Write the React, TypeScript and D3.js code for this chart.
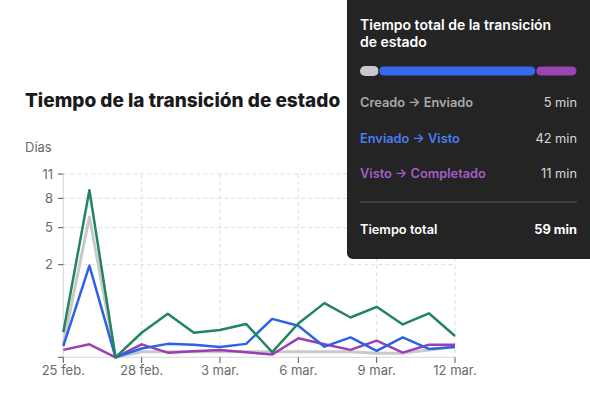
import React from 'react';
import * as d3 from 'd3';

// dias del periodo (uno por punto)
const dates = [
  '2023-02-25', '2023-02-26', '2023-02-27', '2023-02-28', '2023-03-01', '2023-03-02',
  '2023-03-03', '2023-03-04', '2023-03-05', '2023-03-06', '2023-03-07', '2023-03-08',
  '2023-03-09', '2023-03-10', '2023-03-11', '2023-03-12',
];
const creadoEnviado = [0.28, 6.1, 0, 0.12, 0.12, 0.12, 0.12, 0.12, 0.12, 0.12, 0.12, 0.12, 0.09, 0.09, 0.16, 0.23];
const enviadoVisto = [0.24, 1.98, 0, 0.19, 0.29, 0.27, 0.22, 0.29, 0.83, 0.68, 0.23, 0.43, 0.14, 0.43, 0.18, 0.22];
const vistoCompletado = [0.16, 0.28, 0, 0.28, 0.1, 0.13, 0.16, 0.11, 0.06, 0.41, 0.28, 0.16, 0.36, 0.1, 0.27, 0.27];
const total = [0.54, 9.0, 0, 0.53, 0.94, 0.53, 0.59, 0.72, 0.11, 0.73, 1.17, 0.86, 1.09, 0.71, 0.95, 0.46];

const yTicks = [0, 2, 5, 8, 11];
const xTicks = ['2023-02-25', '2023-02-28', '2023-03-03', '2023-03-06', '2023-03-09', '2023-03-12'];
const monthNames = ['ene.', 'feb.', 'mar.', 'abr.'];

const legendLabels = ['Creado → Enviado', 'Enviado → Visto', 'Visto → Completado'];
const legendMinutes = [5, 42, 11];
const totalMinutes = 59;

const W = 590;
const H = 397;
const font = 'Inter, "Noto Sans", sans-serif';

const lineColors = {
  gray: '#c9c9c9',
  blue: '#2c62e6',
  purple: '#9a3fb3',
  green: '#23845e',
};

const App = () => {
  const parse = d3.timeParse('%Y-%m-%d');
  const dd = dates.map((d) => parse(d) as Date);

  const x = d3.scaleTime()
    .domain([parse(xTicks[0]) as Date, parse(xTicks[xTicks.length - 1]) as Date])
    .range([63.3, 455]);
  // escala comprimida arriba (tramos entre las marcas)
  const y = d3.scaleLinear()
    .domain(yTicks)
    .range([357.3, 264.7, 227.7, 198.3, 174]);

  const line = d3.line<number>()
    .x((_, i) => x(dd[i]))
    .y((v) => y(v));

  const series = [
    { vals: creadoEnviado, color: lineColors.gray, w: 3 },
    { vals: vistoCompletado, color: lineColors.purple, w: 2.5 },
    { vals: enviadoVisto, color: lineColors.blue, w: 2.5 },
    { vals: total, color: lineColors.green, w: 2.5 },
  ];

  const fmt = (s: string) => {
    const d = parse(s) as Date;
    return d.getDate() + ' ' + monthNames[d.getMonth()];
  };

  // barra del tooltip
  const barX = d3.scaleLinear()
    .domain([0, d3.sum(legendMinutes)])
    .range([360, 577]);
  const barColors = ['#c8c8c8', '#3469ee', '#9b44b2'];
  const textColors = ['#a9a9a9', '#4a7cf5', '#a85cc6'];
  let acc = 0;
  const segs = legendMinutes.map((m, i) => {
    const s = { x0: barX(acc), x1: barX(acc + m), c: barColors[i] };
    acc += m;
    return s;
  });

  const [x0, x1] = x.range();

  return (
    <svg width={W} height={H} style={{ position: 'absolute', left: 0, top: 0, background: '#fff' }} fontFamily={font}>
      <text x={25} y={107} fontSize={19} fontWeight={800} fill="#1a1a1a">Tiempo de la transición de estado</text>
      <text x={25} y={152} fontSize={13} fill="#6b6b6b">Días</text>

      {/* rejilla */}
      {yTicks.slice(1).map((t) => (
        <line key={'gy' + t} x1={x0} x2={x1} y1={y(t)} y2={y(t)} stroke="#dedede" strokeDasharray="4,3" />
      ))}
      {xTicks.slice(1).map((t) => (
        <line key={'gx' + t} x1={x(parse(t) as Date)} x2={x(parse(t) as Date)} y1={174} y2={357.3} stroke="#dedede" strokeDasharray="4,3" />
      ))}
      <line x1={x0} x2={x0} y1={174} y2={357.3} stroke="#d6d6d6" />
      <line x1={x0} x2={x1} y1={357.3} y2={357.3} stroke="#d6d6d6" />

      {yTicks.map((t) => (
        <g key={'ty' + t}>
          <line x1={58} x2={x0} y1={y(t)} y2={y(t)} stroke="#555" />
          {t > 0 && (
            <text x={53} y={y(t)} dy="0.35em" textAnchor="end" fontSize={13} fill="#6b6b6b">{t}</text>
          )}
        </g>
      ))}
      {xTicks.map((t) => (
        <g key={'tx' + t}>
          <line x1={x(parse(t) as Date)} x2={x(parse(t) as Date)} y1={357.3} y2={363} stroke="#555" />
          <text x={x(parse(t) as Date)} y={375} textAnchor="middle" fontSize={13} fill="#6b6b6b">{fmt(t)}</text>
        </g>
      ))}

      {series.map((s, i) => (
        <path key={'s' + i} d={line(s.vals) || ''} fill="none" stroke={s.color} strokeWidth={s.w} strokeLinejoin="round" />
      ))}

      {/* tooltip */}
      <rect x={347} y={-10} width={260} height={269} rx={6} fill="#242424" />
      <text x={360} y={30} fontSize={14} fontWeight={600} fill="#fff">Tiempo total de la transición</text>
      <text x={360} y={46.5} fontSize={14} fontWeight={600} fill="#fff">de estado</text>
      {segs.map((s, i) => (
        <rect key={'b' + i} x={s.x0} y={66} width={s.x1 - s.x0} height={10} rx={5} fill={s.c} stroke="#242424" strokeWidth={i > 0 ? 1 : 0} />
      ))}
      {legendLabels.map((l, i) => (
        <g key={'l' + i}>
          <text x={360} y={107 + i * 35.6} fontSize={12.8} fontWeight={600} fill={textColors[i]}>{l}</text>
          <text x={577} y={107 + i * 35.6} fontSize={12.8} textAnchor="end" fill="#d8d8d8">{legendMinutes[i]} min</text>
        </g>
      ))}
      <line x1={360} x2={577} y1={202} y2={202} stroke="#555" />
      <text x={360} y={234} fontSize={12.8} fontWeight={600} fill="#fff">Tiempo total</text>
      <text x={577} y={234} fontSize={12.8} fontWeight={700} textAnchor="end" fill="#fff">{totalMinutes} min</text>
    </svg>
  );
};

export default App;
